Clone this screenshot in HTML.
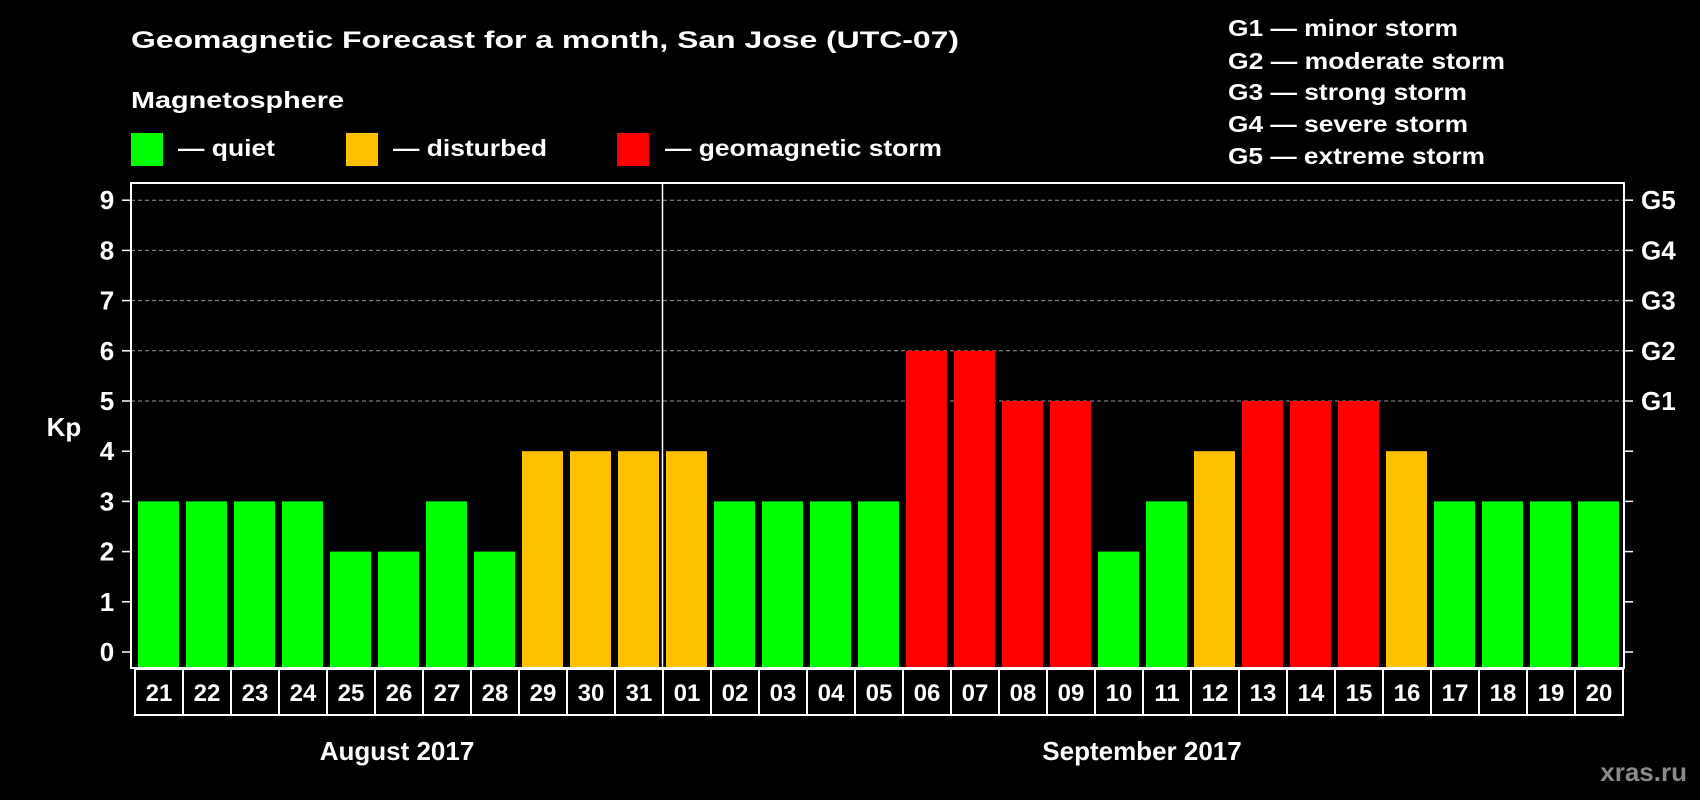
<!DOCTYPE html>
<html><head><meta charset="utf-8"><style>
html,body{margin:0;padding:0;background:#000;}
svg{display:block;font-family:"Liberation Sans",Arial,sans-serif;font-weight:bold;}
</style></head><body>
<svg id="chart" width="1700" height="800" viewBox="0 0 1700 800">
<rect width="1700" height="800" fill="#000"/>
<text x="131" y="48" fill="#fff" font-size="24" textLength="828" lengthAdjust="spacingAndGlyphs">Geomagnetic Forecast for a month, San Jose (UTC-07)</text>
<text x="131" y="108" fill="#fff" font-size="23" textLength="213" lengthAdjust="spacingAndGlyphs">Magnetosphere</text>
<g>
<rect x="131" y="133" width="32" height="33" fill="#00ff00"/>
<text x="178" y="156" fill="#fff" font-size="23" textLength="97" lengthAdjust="spacingAndGlyphs">— quiet</text></g>
<g>
<rect x="346" y="133" width="32" height="33" fill="#ffc000"/>
<text x="393" y="156" fill="#fff" font-size="23" textLength="154" lengthAdjust="spacingAndGlyphs">— disturbed</text></g>
<g>
<rect x="617" y="133" width="32" height="33" fill="#ff0000"/>
<text x="665" y="156" fill="#fff" font-size="23" textLength="277" lengthAdjust="spacingAndGlyphs">— geomagnetic storm</text></g>
<g>
<text x="1228" y="36" fill="#fff" font-size="23" textLength="230" lengthAdjust="spacingAndGlyphs">G1 — minor storm</text>
<text x="1228" y="69" fill="#fff" font-size="23" textLength="277" lengthAdjust="spacingAndGlyphs">G2 — moderate storm</text>
<text x="1228" y="100" fill="#fff" font-size="23" textLength="239" lengthAdjust="spacingAndGlyphs">G3 — strong storm</text>
<text x="1228" y="132" fill="#fff" font-size="23" textLength="240" lengthAdjust="spacingAndGlyphs">G4 — severe storm</text>
<text x="1228" y="164" fill="#fff" font-size="23" textLength="257" lengthAdjust="spacingAndGlyphs">G5 — extreme storm</text>
</g>
<text x="64" y="436" fill="#fff" font-size="26" text-anchor="middle">Kp</text>
<text x="397" y="760" fill="#fff" font-size="26" text-anchor="middle">August 2017</text>
<text x="1142" y="760" fill="#fff" font-size="26" text-anchor="middle">September 2017</text>
<text x="1687" y="781" fill="#8a8a8a" font-size="26" text-anchor="end">xras.ru</text>
<g id="plot"></g>
</svg>
<script>
const days = ["21","22","23","24","25","26","27","28","29","30","31","01","02","03","04","05","06","07","08","09","10","11","12","13","14","15","16","17","18","19","20"];
const kpValues = [3,3,3,3,2,2,3,2,4,4,4,4,3,3,3,3,6,6,5,5,2,3,4,5,5,5,4,3,3,3,3];
const yTicks = [0,1,2,3,4,5,6,7,8,9];
const gridLevels = [5,6,7,8,9];
const gLabels = ["G1","G2","G3","G4","G5"];
const monthSplitIndex = 11;

const NS = "http://www.w3.org/2000/svg";
const g = document.getElementById("plot");
const L = 131, R = 1624, T = 183, B = 668;
const y0 = 652, unit = 50.2;
const yScale = v => y0 - v * unit;
const pitch = 48, bw = 41, x0 = 138;
const xScale = i => x0 + i * pitch;
function mk(tag, attrs){const e=document.createElementNS(NS,tag);for(const k in attrs)e.setAttribute(k,attrs[k]);g.appendChild(e);return e;}
function color(v){return v>=5?"#ff0000":(v>=4?"#ffc000":"#00ff00");}

gridLevels.forEach(v=>{
  const l=mk("line",{x1:L,x2:R,y1:yScale(v),y2:yScale(v),stroke:"#999","stroke-width":1,"stroke-dasharray":"4,3"});
  
  
});
kpValues.forEach((v,i)=>{
  const r=mk("rect",{x:xScale(i),y:yScale(v),width:bw,height:B-yScale(v),fill:color(v)});
  
  
});
const div=mk("line",{x1:(xScale(monthSplitIndex-1)+bw+xScale(monthSplitIndex))/2,x2:(xScale(monthSplitIndex-1)+bw+xScale(monthSplitIndex))/2,y1:T,y2:B,stroke:"#fff","stroke-width":1.5});


const frame=mk("rect",{x:L,y:T,width:R-L,height:B-T,fill:"none",stroke:"#fff","stroke-width":2});


yTicks.forEach(v=>{
  const t1=mk("line",{x1:L-9,x2:L,y1:yScale(v),y2:yScale(v),stroke:"#fff","stroke-width":1.5});
  
  
  const t2=mk("line",{x1:R,x2:R+9,y1:yScale(v),y2:yScale(v),stroke:"#fff","stroke-width":1.5});
  
  
  const tx=mk("text",{x:107,y:yScale(v)+9,fill:"#fff","font-size":26,"text-anchor":"middle"});
  tx.textContent=v;
  
  
});
gLabels.forEach((s,i)=>{
  const tx=mk("text",{x:1641,y:yScale(5+i)+9,fill:"#fff","font-size":26});
  tx.textContent=s;
  
  
});
days.forEach((d,i)=>{
  const cx=xScale(i)-3;
  const c=mk("rect",{x:cx,y:B+1,width:pitch,height:46,fill:"none",stroke:"#fff","stroke-width":2});
  
  
  const tx=mk("text",{x:cx+pitch/2,y:B+33,fill:"#fff","font-size":24,"text-anchor":"middle"});
  tx.textContent=d;
  
  
});
</script>
</body></html>
